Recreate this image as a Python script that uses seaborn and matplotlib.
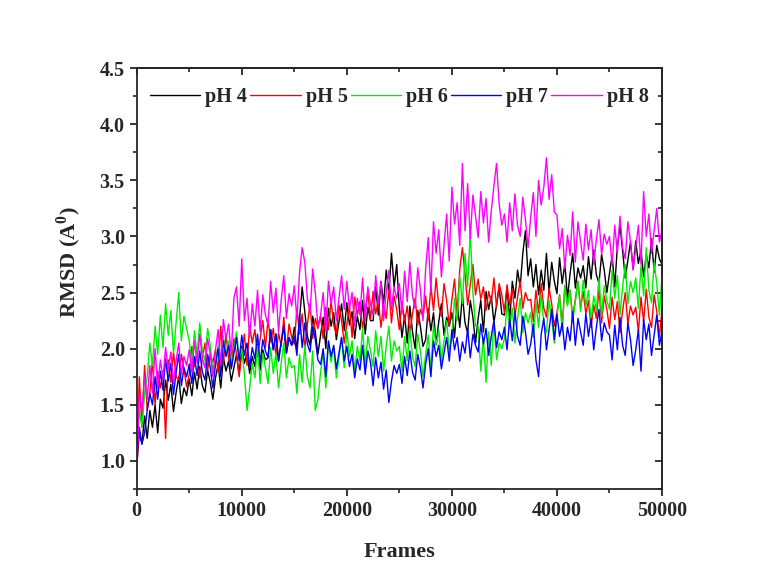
import numpy as np
import pandas as pd
import matplotlib
matplotlib.use('Agg')
import matplotlib.pyplot as plt
import seaborn as sns
from matplotlib.ticker import MultipleLocator

frames = list(range(0, 50001, 250))

ph4 = [0.95, 1.25, 1.15, 1.40, 1.20, 1.45, 1.30, 1.50, 1.25, 1.55,
       1.47, 1.72, 1.54, 1.68, 1.44, 1.61, 1.75, 1.51, 1.65, 1.58,
       1.73, 1.58, 1.79, 1.64, 1.84, 1.67, 1.61, 1.81, 1.70, 1.55,
       1.74, 1.86, 1.65, 1.92, 1.80, 1.89, 1.71, 1.83, 1.95, 1.77,
       2.02, 1.87, 1.96, 1.78, 1.93, 1.84, 2.04, 1.81, 1.99, 1.90,
       1.92, 2.17, 1.99, 2.13, 1.89, 2.06, 2.20, 1.96, 2.10, 2.03,
       2.19, 1.99, 2.27, 2.55, 2.33, 2.11, 2.03, 2.29, 2.15, 1.95,
       2.12, 2.28, 2.00, 2.36, 2.20, 2.32, 2.08, 2.24, 2.40, 2.16,
       2.41, 2.21, 2.33, 2.09, 2.29, 2.17, 2.43, 2.13, 2.37, 2.25,
       2.25, 2.55, 2.30, 2.60, 2.40, 2.70, 2.50, 2.85, 2.55, 2.75,
       2.35, 2.10, 2.30, 2.05, 2.38, 2.15, 2.00, 2.34, 2.20, 2.02,
       2.08, 2.36, 2.16, 2.32, 2.04, 2.24, 2.40, 2.12, 2.28, 2.20,
       2.32, 2.10, 2.41, 2.19, 2.48, 2.23, 2.14, 2.43, 2.28, 2.05,
       2.27, 2.43, 2.15, 2.51, 2.35, 2.47, 2.23, 2.39, 2.55, 2.31,
       2.30, 2.55, 2.25, 2.60, 2.45, 2.70, 2.55, 2.85, 3.05, 2.65,
       2.80, 2.55, 2.75, 2.48, 2.70, 2.52, 2.85, 2.50, 2.77, 2.60,
       2.49, 2.81, 2.58, 2.76, 2.45, 2.67, 2.85, 2.54, 2.72, 2.63,
       2.74, 2.54, 2.82, 2.62, 2.88, 2.66, 2.58, 2.84, 2.70, 2.50,
       2.67, 2.83, 2.55, 2.91, 3.10, 2.87, 2.63, 2.79, 2.95, 2.71,
       2.96, 2.76, 2.88, 2.64, 2.84, 2.72, 2.98, 2.68, 2.92, 2.80,
       2.75]

ph5 = [1.00, 1.75, 1.30, 1.85, 1.45, 1.60, 1.90, 1.50, 1.80, 1.65,
       1.80, 1.20, 1.90, 1.70, 1.97, 1.75, 1.72, 1.95, 1.82, 1.66,
       1.77, 2.02, 1.84, 1.98, 1.74, 1.91, 2.05, 1.81, 1.95, 1.88,
       1.99, 1.79, 2.20, 1.87, 2.13, 1.91, 1.83, 2.09, 1.95, 1.75,
       1.97, 2.13, 1.85, 2.21, 2.05, 2.17, 1.93, 2.09, 2.25, 2.01,
       2.26, 2.06, 2.18, 1.94, 2.14, 2.02, 2.28, 1.98, 2.22, 2.10,
       2.04, 2.36, 2.13, 2.31, 2.00, 2.22, 2.40, 2.09, 2.27, 2.18,
       2.29, 2.09, 2.37, 2.17, 2.43, 2.21, 2.13, 2.39, 2.25, 2.05,
       2.22, 2.38, 2.10, 2.46, 2.30, 2.42, 2.18, 2.34, 2.50, 2.26,
       2.51, 2.31, 2.43, 2.19, 2.39, 2.27, 2.53, 2.23, 2.47, 2.35,
       2.17, 2.42, 2.24, 2.38, 2.14, 2.31, 2.45, 2.21, 2.35, 2.28,
       2.47, 2.25, 2.56, 2.34, 2.63, 2.38, 2.29, 2.58, 2.43, 2.20,
       2.44, 2.62, 2.30, 2.71, 2.90, 2.66, 2.39, 2.57, 2.75, 2.48,
       2.62, 2.44, 2.55, 2.34, 2.51, 2.41, 2.63, 2.37, 2.58, 2.48,
       2.32, 2.57, 2.39, 2.53, 2.29, 2.46, 2.60, 2.36, 2.50, 2.43,
       2.44, 2.24, 2.52, 2.32, 2.58, 2.36, 2.28, 2.54, 2.40, 2.20,
       2.32, 2.48, 2.20, 2.56, 2.40, 2.52, 2.28, 2.44, 2.60, 2.36,
       2.51, 2.31, 2.43, 2.19, 2.39, 2.27, 2.53, 2.23, 2.47, 2.35,
       2.18, 2.46, 2.26, 2.42, 2.14, 2.34, 2.50, 2.22, 2.38, 2.30,
       2.37, 2.15, 2.46, 2.24, 2.53, 2.28, 2.19, 2.48, 2.33, 2.10,
       2.35]

ph6 = [1.10, 1.45, 1.30, 1.60, 1.75, 2.05, 1.85, 2.20, 1.95, 2.30,
       2.01, 2.40, 2.12, 2.34, 1.96, 2.23, 2.50, 2.07, 2.29, 2.18,
       2.07, 1.85, 2.16, 1.94, 2.23, 1.98, 1.89, 2.18, 2.03, 1.80,
       1.87, 2.03, 1.75, 2.11, 1.95, 2.07, 1.83, 1.99, 2.15, 1.91,
       2.00, 1.78, 1.45, 1.65, 1.87, 1.74, 2.03, 1.69, 1.96, 1.83,
       1.69, 2.01, 1.78, 1.96, 1.65, 1.87, 2.05, 1.74, 1.92, 1.83,
       1.85, 1.60, 1.95, 1.70, 2.03, 1.75, 1.65, 1.98, 1.45, 1.55,
       1.79, 1.97, 1.65, 2.06, 1.88, 2.02, 1.74, 1.92, 2.10, 1.83,
       2.16, 1.93, 2.07, 1.80, 2.02, 1.89, 2.18, 1.84, 2.11, 1.98,
       1.84, 2.16, 1.93, 2.11, 1.80, 2.02, 2.20, 1.89, 2.07, 1.98,
       2.02, 1.80, 2.11, 1.89, 2.18, 1.93, 1.84, 2.13, 1.98, 1.75,
       1.94, 2.12, 1.80, 2.21, 2.03, 2.17, 1.89, 2.07, 2.25, 1.98,
       2.10, 2.45, 2.25, 2.65, 2.40, 2.85, 2.55, 3.05, 2.50, 2.20,
       2.20, 1.80, 2.10, 1.70, 2.15, 1.85, 2.25, 1.90, 2.05, 2.00,
       2.09, 2.41, 2.18, 2.36, 2.05, 2.27, 2.45, 2.14, 2.32, 2.23,
       2.32, 2.10, 2.41, 2.19, 2.48, 2.23, 2.14, 2.43, 2.28, 2.05,
       2.29, 2.47, 2.15, 2.56, 2.38, 2.52, 2.24, 2.42, 2.60, 2.33,
       2.61, 2.38, 2.52, 2.25, 2.47, 2.34, 2.63, 2.29, 2.56, 2.43,
       2.35, 2.70, 2.45, 2.65, 2.30, 2.55, 2.75, 2.40, 2.60, 2.50,
       2.63, 2.36, 2.74, 2.47, 2.90, 2.52, 2.41, 2.77, 2.58, 2.30,
       2.65]

ph7 = [1.05, 1.30, 1.15, 1.25, 1.45, 1.60, 1.50, 1.75, 1.55, 1.80,
       1.63, 1.91, 1.71, 1.87, 1.59, 1.79, 1.95, 1.67, 1.83, 1.75,
       1.86, 1.69, 1.93, 1.76, 1.98, 1.79, 1.72, 1.95, 1.83, 1.65,
       1.86, 2.00, 1.75, 2.07, 1.93, 2.03, 1.82, 1.96, 2.10, 1.89,
       2.12, 1.94, 2.05, 1.84, 2.01, 1.91, 2.13, 1.87, 2.08, 1.98,
       1.92, 2.17, 1.99, 2.13, 1.89, 2.06, 2.20, 1.96, 2.10, 2.03,
       2.11, 1.94, 2.30, 2.01, 2.23, 2.04, 1.97, 2.20, 2.08, 1.90,
       1.86, 2.00, 1.75, 2.07, 1.93, 2.03, 1.82, 1.96, 2.10, 1.89,
       2.02, 1.84, 1.95, 1.74, 1.91, 1.81, 2.03, 1.77, 1.98, 1.88,
       1.67, 1.92, 1.74, 1.88, 1.64, 1.81, 1.52, 1.71, 1.85, 1.78,
       1.86, 1.69, 1.93, 1.76, 1.98, 1.79, 1.72, 1.95, 1.83, 1.65,
       1.86, 2.00, 1.75, 2.07, 1.93, 2.03, 1.82, 1.96, 2.10, 1.89,
       2.17, 1.99, 2.10, 1.89, 2.06, 1.96, 2.18, 1.92, 2.13, 2.03,
       1.97, 2.22, 2.04, 2.18, 1.94, 2.11, 2.25, 2.01, 2.15, 2.08,
       2.19, 1.99, 2.27, 2.07, 2.33, 2.11, 2.03, 2.29, 2.15, 1.95,
       2.04, 2.22, 1.90, 1.75, 2.13, 2.27, 1.99, 2.17, 2.35, 2.08,
       2.31, 2.11, 2.23, 1.99, 2.19, 2.07, 2.33, 2.03, 2.27, 2.15,
       2.03, 2.31, 2.11, 2.27, 1.99, 2.19, 2.35, 2.07, 2.23, 2.15,
       2.12, 1.90, 2.21, 1.99, 2.28, 2.03, 1.94, 2.23, 2.08, 1.85,
       1.99, 2.17, 1.80, 2.26, 2.08, 2.22, 1.94, 2.12, 2.30, 2.03,
       2.15]

ph8 = [0.80, 1.60, 1.45, 1.75, 1.55, 1.85, 1.60, 2.00, 1.65, 1.90,
       1.73, 2.01, 1.81, 1.97, 1.69, 1.89, 2.05, 1.77, 1.93, 1.85,
       1.99, 1.79, 2.07, 1.87, 2.13, 1.91, 1.83, 2.09, 1.95, 1.75,
       1.99, 2.17, 1.85, 2.26, 2.08, 2.22, 1.94, 2.45, 2.55, 2.20,
       2.80, 2.25, 2.45, 2.10, 2.40, 2.20, 2.52, 2.15, 2.48, 2.30,
       2.21, 2.60, 2.32, 2.54, 2.15, 2.43, 2.65, 2.27, 2.49, 2.38,
       2.56, 2.26, 2.68, 2.90, 2.77, 2.44, 2.32, 2.71, 2.50, 2.20,
       2.30, 2.50, 2.15, 2.60, 2.40, 2.55, 2.25, 2.45, 2.65, 2.35,
       2.60, 2.35, 2.50, 2.20, 2.45, 2.30, 2.63, 2.25, 2.55, 2.40,
       2.30, 2.65, 2.40, 2.60, 2.25, 2.50, 2.70, 2.35, 2.55, 2.45,
       2.58, 2.31, 2.69, 2.42, 2.77, 2.47, 2.36, 2.72, 2.53, 2.25,
       2.71, 2.99, 2.50, 3.13, 2.85, 3.06, 2.64, 2.92, 3.20, 2.78,
       3.44, 3.11, 3.30, 2.92, 3.65, 3.05, 3.47, 2.98, 3.37, 3.18,
       2.99, 3.40, 3.12, 3.34, 2.95, 3.23, 3.45, 3.65, 3.29, 3.10,
       3.20, 2.95, 3.30, 3.05, 3.38, 3.10, 3.00, 3.35, 3.15, 2.90,
       3.17, 3.39, 3.00, 3.50, 3.28, 3.44, 3.70, 3.33, 3.55, 3.22,
       3.19, 2.89, 3.07, 2.71, 3.01, 2.83, 3.22, 2.77, 3.13, 2.95,
       2.79, 3.11, 2.88, 3.06, 2.75, 2.97, 3.15, 2.84, 3.02, 2.93,
       3.00, 2.75, 3.10, 2.85, 3.18, 2.90, 2.80, 3.13, 2.95, 2.70,
       2.90, 3.10, 2.75, 3.40, 3.00, 3.20, 2.85, 3.05, 3.25, 2.95,
       3.05]

labels = ['pH 4', 'pH 5', 'pH 6', 'pH 7', 'pH 8']
colors = ['black', 'red', '#00ee00', 'blue', 'magenta']

df = pd.DataFrame({'Frames': frames * 5,
                   'RMSD': ph4 + ph5 + ph6 + ph7 + ph8,
                   'pH': [l for l in labels for _ in frames]})

sns.set_style('ticks')
plt.rcParams['font.family'] = ['Liberation Serif', 'DejaVu Serif']
plt.rcParams['font.weight'] = 'bold'
plt.rcParams['mathtext.fontset'] = 'custom'
plt.rcParams['mathtext.rm'] = 'Liberation Serif:bold'
plt.rcParams['mathtext.bf'] = 'Liberation Serif:bold'

fig = plt.figure(figsize=(7.68, 5.87), dpi=100)
ax = fig.add_axes([0.178, 0.167, 0.684, 0.717])

sns.lineplot(data=df, x='Frames', y='RMSD', hue='pH', palette=colors,
             estimator=None, linewidth=1.0, ax=ax)

ax.set_xlim(0, 50000)
ax.set_ylim(0.75, 4.5)
ax.xaxis.set_major_locator(MultipleLocator(10000))
ax.xaxis.set_minor_locator(MultipleLocator(5000))
ax.yaxis.set_major_locator(MultipleLocator(0.5))
ax.yaxis.set_minor_locator(MultipleLocator(0.25))
ax.tick_params(which='major', direction='out', length=5, width=1.3, labelsize=14.5)
ax.tick_params(which='minor', direction='out', length=3, width=1.2)

# mirrored ticks on top and right, pointing inward
top = ax.secondary_xaxis('top')
top.xaxis.set_major_locator(MultipleLocator(10000))
top.xaxis.set_minor_locator(MultipleLocator(5000))
top.tick_params(which='major', direction='in', length=5, width=1.3, labeltop=False)
top.tick_params(which='minor', direction='in', length=3, width=1.2)
right = ax.secondary_yaxis('right')
right.yaxis.set_major_locator(MultipleLocator(0.5))
right.yaxis.set_minor_locator(MultipleLocator(0.25))
right.tick_params(which='major', direction='in', length=5, width=1.3, labelright=False)
right.tick_params(which='minor', direction='in', length=3, width=1.2)

for s in ax.spines.values():
    s.set_linewidth(1.3)
for s in list(top.spines.values()) + list(right.spines.values()):
    s.set_linewidth(1.3)

for t in ax.get_xticklabels() + ax.get_yticklabels():
    t.set_fontweight('bold')

ax.set_xlabel('Frames', fontsize=16, fontweight='bold', labelpad=15)
ax.set_ylabel(r'RMSD (A$^\mathbf{0}$)', fontsize=16, fontweight='bold')
ax.yaxis.set_label_coords(-0.102, 0.54)

leg = ax.legend(loc='upper center', bbox_to_anchor=(0.5, 0.997), ncol=5,
                frameon=False, handlelength=2.5, handletextpad=0.25,
                columnspacing=0.15, prop={'size': 14.5, 'weight': 'bold'})

fig.savefig('out.png', dpi=100)
